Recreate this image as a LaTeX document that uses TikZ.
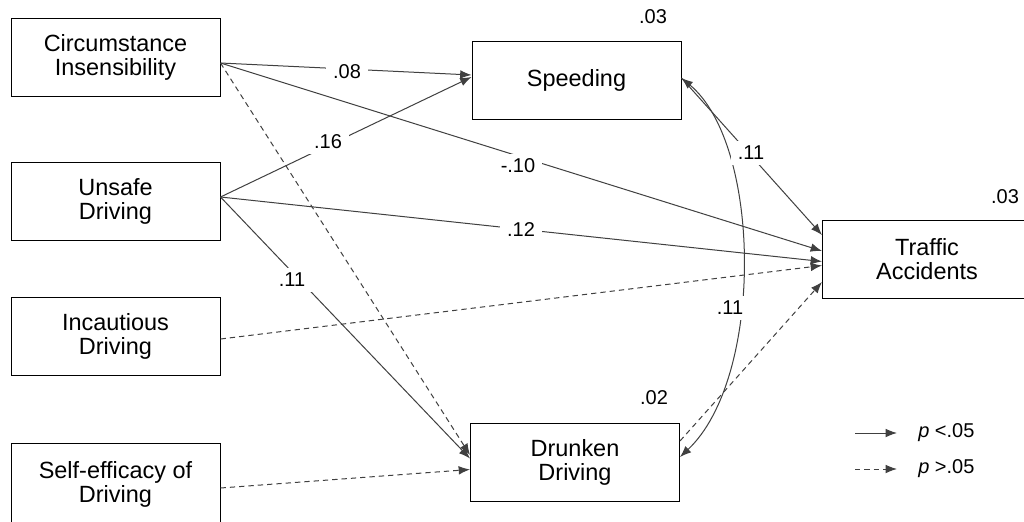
\documentclass[tikz,border=0pt]{standalone}
\usepackage{fontspec}
\setmainfont{Liberation Sans}
\usetikzlibrary{arrows.meta,calc}

\tikzset{
  var/.style={draw=black, line width=0.75pt, minimum width=156.75pt,
    minimum height=58.5pt, inner sep=0pt, align=center,
    font=\fontsize{17.6}{18}\selectfont},
  coef/.style={fill=white, inner xsep=5pt, inner ysep=4pt, font=\fontsize{15}{15}\selectfont},
  rsq/.style={inner sep=0pt, font=\fontsize{15}{15}\selectfont},
  legtext/.style={anchor=west, inner sep=0pt, font=\fontsize{15}{15}\selectfont},
  tip/.style={Latex[length=8.5pt,width=6.5pt]},
  sig/.style={draw=black!75, line width=0.75pt, -{Latex[length=8.5pt,width=6.5pt]}},
  nsig/.style={sig, dash pattern=on 4pt off 3pt},
  corr/.style={draw=black!75, line width=0.75pt,
    {Latex[length=8.5pt,width=6.5pt]}-{Latex[length=8.5pt,width=6.5pt]}}
}

\begin{document}
\begin{tikzpicture}[x=0.75pt, y=-0.75pt]
\useasboundingbox (0,0) rectangle (1024,521);
\clip (0,0) rectangle (1024,521);
\fill[white] (0,0) rectangle (1024,521);

% predictors
\node[var] (C) at (115.5,57)    {Circumstance\\Insensibility};
\node[var] (U) at (115.5,201.5) {Unsafe\\Driving};
\node[var] (I) at (115.5,336.5) {Incautious\\Driving};
\node[var, minimum height=61.5pt] (S) at (115.5,484) {Self-efficacy of\\Driving};

% mediators and outcome
\node[var] (Sp) at (576.5,80)   {Speeding};
\node[var] (D)  at (575,462.5)  {Drunken\\Driving};
\node[var] (TA) at (927,259.5)  {Traffic\\Accidents};

% attachment points on the box sides
\coordinate (Cout) at ($(C.east)+(0,6)$);
\coordinate (Uout) at ($(U.east)+(0,-4.5)$);
\coordinate (Iout) at ($(I.east)+(0,2.5)$);
\coordinate (Sout) at ($(S.east)+(0,4)$);
\coordinate (SpinC) at ($(Sp.west)+(0,-5)$);
\coordinate (SpinU) at ($(Sp.west)+(0,-3)$);
\coordinate (Spout) at ($(Sp.east)+(0,-2)$);
\coordinate (DinC) at ($(D.west)+(0,-7.5)$);
\coordinate (DinU) at ($(D.west)+(0,-4)$);
\coordinate (DinS) at ($(D.west)+(0,7)$);
\coordinate (Dout) at ($(D.east)+(0,-21.5)$);
\coordinate (Dcor) at ($(D.east)+(0,-5.5)$);
\coordinate (TAinSp) at ($(TA.west)+(0,-24.5)$);
\coordinate (TAinC)  at ($(TA.west)+(0,-8.5)$);
\coordinate (TAinU)  at ($(TA.west)+(0,2)$);
\coordinate (TAinI)  at ($(TA.west)+(0,6)$);
\coordinate (TAinD)  at ($(TA.west)+(0,22.5)$);

% paths
\draw[sig]  (Cout) -- (SpinC);
\draw[sig]  (Cout) -- (TAinC);
\draw[nsig] (Cout) -- (DinC);
\draw[sig]  (Uout) -- (SpinU);
\draw[sig]  (Uout) -- (TAinU);
\draw[sig]  (Uout) -- (DinU);
\draw[nsig] (Iout) -- (TAinI);
\draw[nsig] (Sout) -- (DinS);
\draw[sig]  (Spout) -- (TAinSp);
\draw[nsig] (Dout) -- (TAinD);
\draw[corr] (Spout) .. controls (762,145) and (764,378) .. (Dcor);

% path coefficients
\node[coef] (k08)  at (347,72)  {.08};
\node[coef] (k16)  at (328,142) {.16};
\node[coef] (k10)  at (518,166) {-.10};
\node[coef] (k12)  at (521,230) {.12};
\node[coef] (k11u) at (292,280) {.11};
\node[coef] (k11s) at (751,153) {.11};
\node[coef] (k11c) at (730,308) {.11};

% explained variance
\node[rsq] (rSp) at (653,17)   {.03};
\node[rsq] (rTA) at (1005,197) {.03};
\node[rsq] (rD)  at (654,398)  {.02};

% legend
\coordinate (ka) at (855,433);
\coordinate (kb) at (897,433);
\coordinate (kc) at (855,469);
\coordinate (kd) at (897,469);
\draw[sig]  (ka) -- (kb);
\draw[nsig] (kc) -- (kd);
\node[legtext] (kt1) at (918,433) {\textit{p} <.05};
\node[legtext] (kt2) at (918,469) {\textit{p} >.05};
\end{tikzpicture}
\end{document}
